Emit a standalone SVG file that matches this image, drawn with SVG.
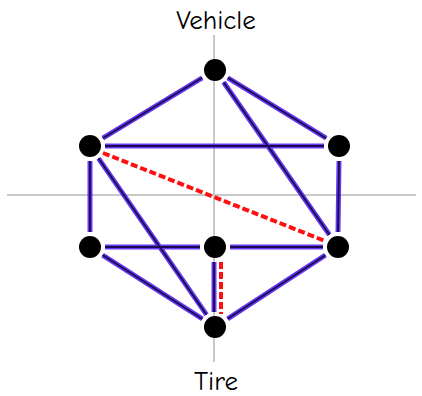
<svg xmlns="http://www.w3.org/2000/svg" xmlns:xlink="http://www.w3.org/1999/xlink" width="422" height="396" viewBox="0 0 422 396">
<style>
.axis{stroke:#c8c8c8;stroke-width:2;fill:none}
.edge-o{stroke:#5424f0;stroke-width:5;fill:none;stroke-linecap:butt;opacity:0.9}
.edge-i{stroke:#1c0a50;stroke-width:1.8;fill:none}
.red{stroke:#ff1010;stroke-width:4;stroke-dasharray:7 3;fill:none}
.node{fill:#000}
.lbl{font-family:"Comic Neue","DejaVu Sans",sans-serif;font-size:27px;fill:#000;text-anchor:middle}
</style>
<defs>
<path id="e" d="M202.2,77.8L102.8,138.2 M227.8,77.8L326.2,138.2 M223.6,82.3L329.4,234.7 M105,146L324,146 M90,161L90,232 M98.5,158.3L206.5,314.7 M339,161L338,232 M105,247L200,247 M230,247L323,247 M102.6,255.1L202.4,318.9 M325.4,255.2L227.6,318.8 M214,262L214,312"/>
</defs>
<g id="axes">
<line class="axis" x1="7" y1="195" x2="416" y2="195"/>
<line class="axis" x1="214" y1="35" x2="214" y2="362"/>
</g>
<g id="connectors">
<use xlink:href="#e" class="edge-o"/>
<use xlink:href="#e" class="edge-i"/>
<line class="red" x1="103" y1="153" x2="325" y2="241"/>
<line class="red" x1="221" y1="262" x2="221" y2="314"/>
</g>
<g id="n-top"><circle class="node" cx="215" cy="70" r="11"/></g>
<g id="n-ul"><circle class="node" cx="90" cy="146" r="11"/></g>
<g id="n-ur"><circle class="node" cx="339" cy="146" r="11"/></g>
<g id="n-ll"><circle class="node" cx="90" cy="247" r="11"/></g>
<g id="n-c"><circle class="node" cx="215" cy="247" r="11"/></g>
<g id="n-lr"><circle class="node" cx="338" cy="247" r="11"/></g>
<g id="n-b"><circle class="node" cx="215" cy="327" r="11"/></g>
<g id="labels">
<text class="lbl" x="216" y="29">Vehicle</text>
<text class="lbl" x="216" y="390">Tire</text>
</g>
</svg>
